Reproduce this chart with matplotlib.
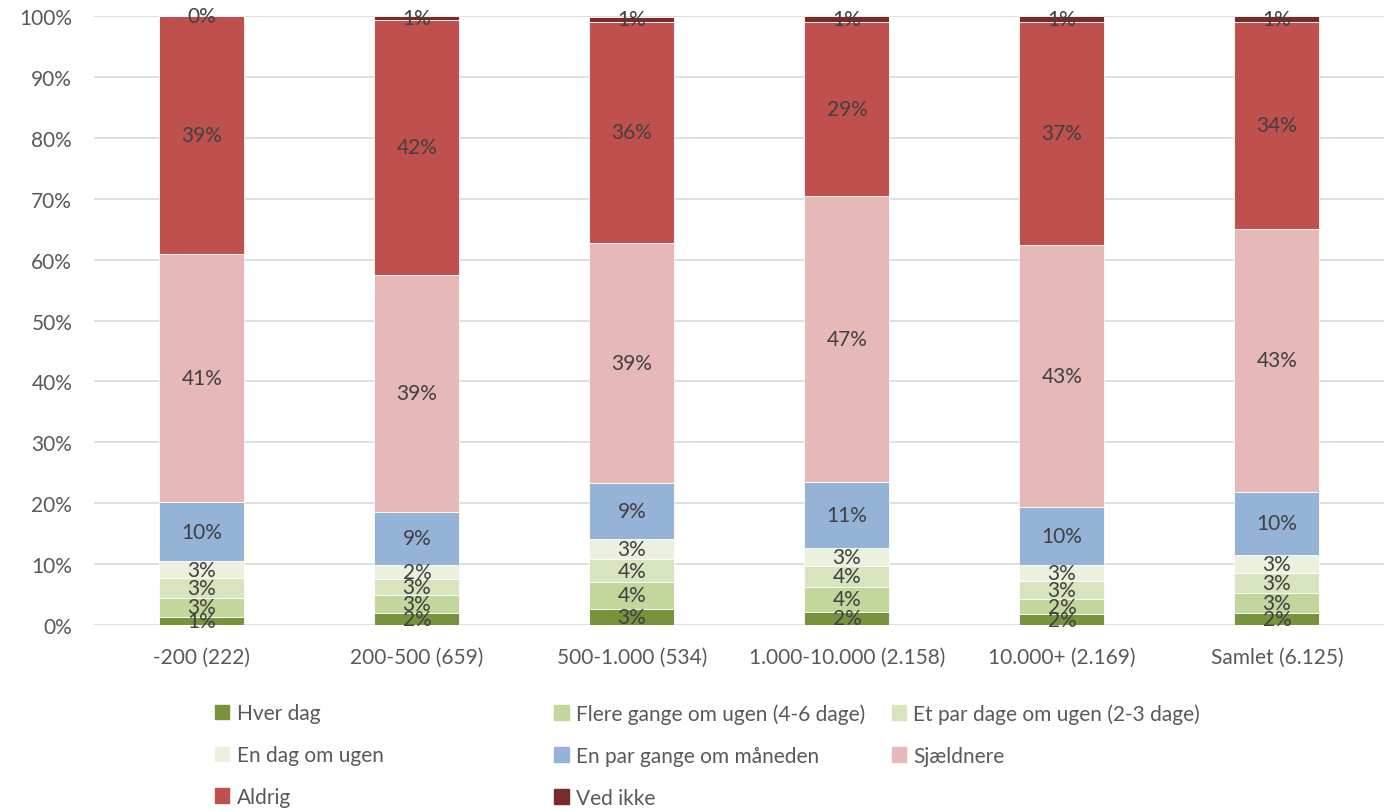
import matplotlib.pyplot as plt
from matplotlib.patches import Patch
import numpy as np

plt.rcParams['font.family'] = ['Lato', 'DejaVu Sans']

groups = ['-200 (222)', '200-500 (659)', '500-1.000 (534)', '1.000-10.000 (2.158)',
          '10.000+ (2.169)', 'Samlet (6.125)']

series = ['Hver dag', 'Flere gange om ugen (4-6 dage)', 'Et par dage om ugen (2-3 dage)',
          'En dag om ugen', 'En par gange om måneden', 'Sjældnere', 'Aldrig', 'Ved ikke']

hver_dag = [1.35, 2.0, 2.7, 2.2, 1.75, 2.0]
flere_gange = [3.1, 3.0, 4.4, 4.0, 2.5, 3.3]
et_par_dage = [3.25, 2.6, 3.7, 3.55, 2.95, 3.3]
en_dag = [2.75, 2.3, 3.4, 2.9, 2.7, 2.95]
en_par_gange = [9.7, 8.7, 9.2, 10.8, 9.5, 10.3]
sjaeldnere = [40.7, 38.9, 39.4, 47.0, 43.0, 43.2]
aldrig = [39.15, 41.9, 36.3, 28.65, 36.7, 34.05]
ved_ikke = [0.0, 0.6, 0.8, 0.9, 0.9, 0.9]

values = [hver_dag, flere_gange, et_par_dage, en_dag, en_par_gange, sjaeldnere, aldrig, ved_ikke]
colors = ['#77933C', '#C3D69B', '#D7E4BD', '#EBF1DE', '#95B3D7', '#E6B9B8', '#C0504D', '#772C2A']

text_col = '#595959'
label_col = '#404040'
fs = 15

fig = plt.figure(figsize=(13.91, 8.12), dpi=100)
ax = fig.add_axes([0.0679, 0.229, 0.9274, 0.750])

x = np.arange(len(groups))
bottom = np.zeros(len(groups))
for name, vals, col in zip(series, values, colors):
    vals = np.array(vals)
    ax.bar(x, vals, 0.395, bottom=bottom, color=col, edgecolor='white', linewidth=0.6,
           label=name, zorder=3)
    for xi, b, v in zip(x, bottom, vals):
        ax.text(xi, b + v / 2, f'{v:.0f}%', ha='center', va='center',
                fontsize=fs, color=label_col, zorder=4)
    bottom += vals

ax.set_xlim(-0.5, len(groups) - 0.5)
ax.set_ylim(0, 100)
ax.set_yticks(np.arange(0, 101, 10))
ax.set_yticklabels([f'{t}%' for t in range(0, 101, 10)])
ax.set_xticks(x)
ax.set_xticklabels(groups)
ax.tick_params(axis='both', length=0, labelsize=fs, labelcolor=text_col)
ax.tick_params(axis='x', pad=16)
ax.tick_params(axis='y', pad=16)
ax.grid(axis='y', color='#D9D9D9', linewidth=1.2, zorder=0)
for s in ax.spines.values():
    s.set_visible(False)

# legend laid out like the original: three columns of unequal width
handles = [Patch(color=c) for c in colors]
columns = [([0, 3, 6], 0.147), ([1, 4, 7], 0.391), ([2, 5], 0.6335)]
for idxs, xpos in columns:
    leg = fig.legend([handles[i] for i in idxs], [series[i] for i in idxs],
                     loc='upper left', bbox_to_anchor=(xpos, 0.1455), frameon=False,
                     fontsize=fs, handlelength=0.7, handleheight=0.7,
                     handletextpad=0.35, labelspacing=1.05, borderpad=0)
    for t in leg.get_texts():
        t.set_color(text_col)

fig.savefig('out.png', dpi=100, facecolor='white')
